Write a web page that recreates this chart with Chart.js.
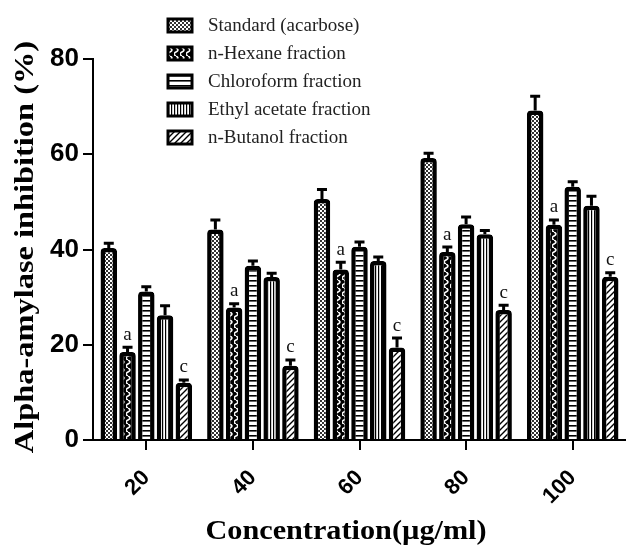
<!DOCTYPE html>
<html>
<head>
<meta charset="utf-8">
<script src="https://cdn.jsdelivr.net/npm/chart.js@4.4.1/dist/chart.umd.min.js"></script>
<style>
  html, body { margin: 0; padding: 0; background: #fff; }
  #wrap { width: 626px; height: 552px; }
</style>
</head>
<body>
<div id="wrap"><canvas id="myChart" width="626" height="552"></canvas></div>
<script>
var concentrations = ["20", "40", "60", "80", "100"];
var seriesNames = ["Standard (acarbose)", "n-Hexane fraction", "Chloroform fraction", "Ethyl acetate fraction", "n-Butanol fraction"];
var standard = [40.3, 44.2, 50.6, 59.2, 69.2];
var hexane = [18.5, 27.8, 35.8, 39.5, 45.2];
var chloroform = [31.2, 36.6, 40.6, 45.3, 53.2];
var ethylAcetate = [26.2, 34.2, 37.6, 43.2, 49.2];
var butanol = [12.0, 15.6, 19.4, 27.3, 34.3];
var standardErr = [1.0, 2.0, 2.0, 1.0, 3.0];
var hexaneErr = [1.0, 0.8, 1.5, 1.0, 1.0];
var chloroformErr = [1.0, 1.0, 1.0, 1.5, 1.0];
var ethylAcetateErr = [2.0, 0.8, 0.8, 0.8, 2.0];
var butanolErr = [0.6, 1.2, 2.0, 1.0, 0.8];
var letters = ["", "a", "", "", "c"];
var yTicks = [0, 20, 40, 60, 80];

var ctx0 = document.getElementById("myChart").getContext("2d");
function pat(w, h, draw) {
  var c = document.createElement("canvas");
  c.width = w; c.height = h;
  draw(c.getContext("2d"), w, h);
  return ctx0.createPattern(c, "repeat");
}
// fine dotted checker
var pStandard = pat(4, 4, function (g) {
  g.fillStyle = "#fff"; g.fillRect(0, 0, 4, 4);
  g.fillStyle = "#333"; g.fillRect(0, 0, 2, 2); g.fillRect(2, 2, 2, 2);
});
// wavy white line on black
var pHexane = pat(6, 8, function (g) {
  g.fillStyle = "#000"; g.fillRect(0, 0, 6, 8);
  g.strokeStyle = "#fff"; g.lineWidth = 1.5;
  g.beginPath();
  g.moveTo(2, 0); g.quadraticCurveTo(6, 2, 2, 4); g.quadraticCurveTo(-2, 6, 2, 8);
  g.stroke();
});
// horizontal stripes
var pChloro = pat(4, 5, function (g) {
  g.fillStyle = "#fff"; g.fillRect(0, 0, 4, 5);
  g.fillStyle = "#000"; g.fillRect(0, 0, 4, 1.6);
});
// vertical stripes
var pEthyl = pat(3, 4, function (g) {
  g.fillStyle = "#fff"; g.fillRect(0, 0, 3, 4);
  g.fillStyle = "#000"; g.fillRect(0, 0, 1.2, 4);
});
// diagonal hatch
var pButanol = pat(6, 6, function (g) {
  g.fillStyle = "#fff"; g.fillRect(0, 0, 6, 6);
  g.strokeStyle = "#000"; g.lineWidth = 1.4;
  g.beginPath();
  g.moveTo(-1, 7); g.lineTo(7, -1);
  g.moveTo(-1, 1); g.lineTo(1, -1);
  g.moveTo(5, 7); g.lineTo(7, 5);
  g.stroke();
});

var seriesData = [standard, hexane, chloroform, ethylAcetate, butanol];
var seriesErr = [standardErr, hexaneErr, chloroformErr, ethylAcetateErr, butanolErr];
var seriesPat = [pStandard, pHexane, pChloro, pEthyl, pButanol];

var datasets = seriesNames.map(function (name, i) {
  return {
    label: name,
    data: seriesData[i],
    backgroundColor: seriesPat[i],
    borderColor: "#000",
    borderWidth: 4.5,
    borderSkipped: "bottom",
    borderRadius: { topLeft: 4, topRight: 4, bottomLeft: 0, bottomRight: 0 },
    categoryPercentage: 0.88,
    barPercentage: 0.88
  };
});

function stretchedText(c, text, x, y, sx, rot) {
  c.save();
  c.translate(x, y);
  if (rot) c.rotate(rot);
  c.scale(sx, 1);
  c.fillText(text, 0, 0);
  c.restore();
}

var extras = {
  id: "extras",
  afterDatasetsDraw: function (chart) {
    var c = chart.ctx, ys = chart.scales.y;
    c.save();
    chart.data.datasets.forEach(function (ds, i) {
      var meta = chart.getDatasetMeta(i);
      meta.data.forEach(function (bar, j) {
        var top = ys.getPixelForValue(ds.data[j] + seriesErr[i][j]);
        c.strokeStyle = "#000";
        c.lineWidth = 3;
        c.beginPath();
        c.moveTo(bar.x, bar.y);
        c.lineTo(bar.x, top);
        c.moveTo(bar.x - 5, top);
        c.lineTo(bar.x + 5, top);
        c.stroke();
        if (letters[i]) {
          c.fillStyle = "#111";
          c.font = "19px 'Liberation Serif', serif";
          c.textAlign = "center";
          c.textBaseline = "bottom";
          c.fillText(letters[i], bar.x, top - 3);
        }
      });
    });
    c.restore();
  },
  afterDraw: function (chart) {
    var c = chart.ctx;
    c.save();
    // legend
    seriesNames.forEach(function (name, i) {
      var y = 25 + i * 28;
      c.fillStyle = seriesPat[i];
      c.fillRect(168, y - 6, 24, 13);
      c.strokeStyle = "#000";
      c.lineWidth = 3;
      c.strokeRect(168, y - 6, 24, 13);
      c.fillStyle = "#222";
      c.font = "19px 'Liberation Serif', serif";
      c.textAlign = "left";
      c.textBaseline = "middle";
      c.fillText(name, 208, y + 1);
    });
    // axis titles
    c.fillStyle = "#000";
    c.textAlign = "center";
    c.textBaseline = "middle";
    c.font = "bold 27px 'Liberation Serif', serif";
    stretchedText(c, "Concentration(\u00b5g/ml)", 346, 532, 1.12, 0);
    c.font = "bold 27px 'Liberation Serif', serif";
    stretchedText(c, "Alpha-amylase inhibition (%)", 26, 247, 1.2, -Math.PI / 2);
    c.restore();
  }
};

new Chart("myChart", {
  type: "bar",
  data: { labels: concentrations, datasets: datasets },
  plugins: [extras],
  options: {
    responsive: false,
    animation: false,
    events: [],
    layout: { padding: { top: 59, right: 0, left: 0, bottom: 0 } },
    plugins: { legend: { display: false }, tooltip: { enabled: false } },
    scales: {
      x: {
        offset: true,
        grid: { display: true, drawOnChartArea: false, offset: false, tickLength: 10, color: "#000", lineWidth: 2 },
        border: { color: "#000", width: 2 },
        ticks: { color: "#000", maxRotation: 45, minRotation: 45, padding: 15, font: { family: "'Liberation Sans', Arial", size: 22, weight: "bold" } },
        afterFit: function (s) { s.height = 112; }
      },
      y: {
        min: 0,
        max: 80,
        afterBuildTicks: function (s) { s.ticks = yTicks.map(function (v) { return { value: v }; }); },
        grid: { display: true, drawOnChartArea: false, tickLength: 10, color: "#000", lineWidth: 2 },
        border: { color: "#000", width: 2 },
        ticks: { color: "#000", padding: 4, font: { family: "'Liberation Sans', Arial", size: 26, weight: "bold" } },
        afterFit: function (s) { s.width = 93; }
      }
    }
  }
});
</script>
</body>
</html>
